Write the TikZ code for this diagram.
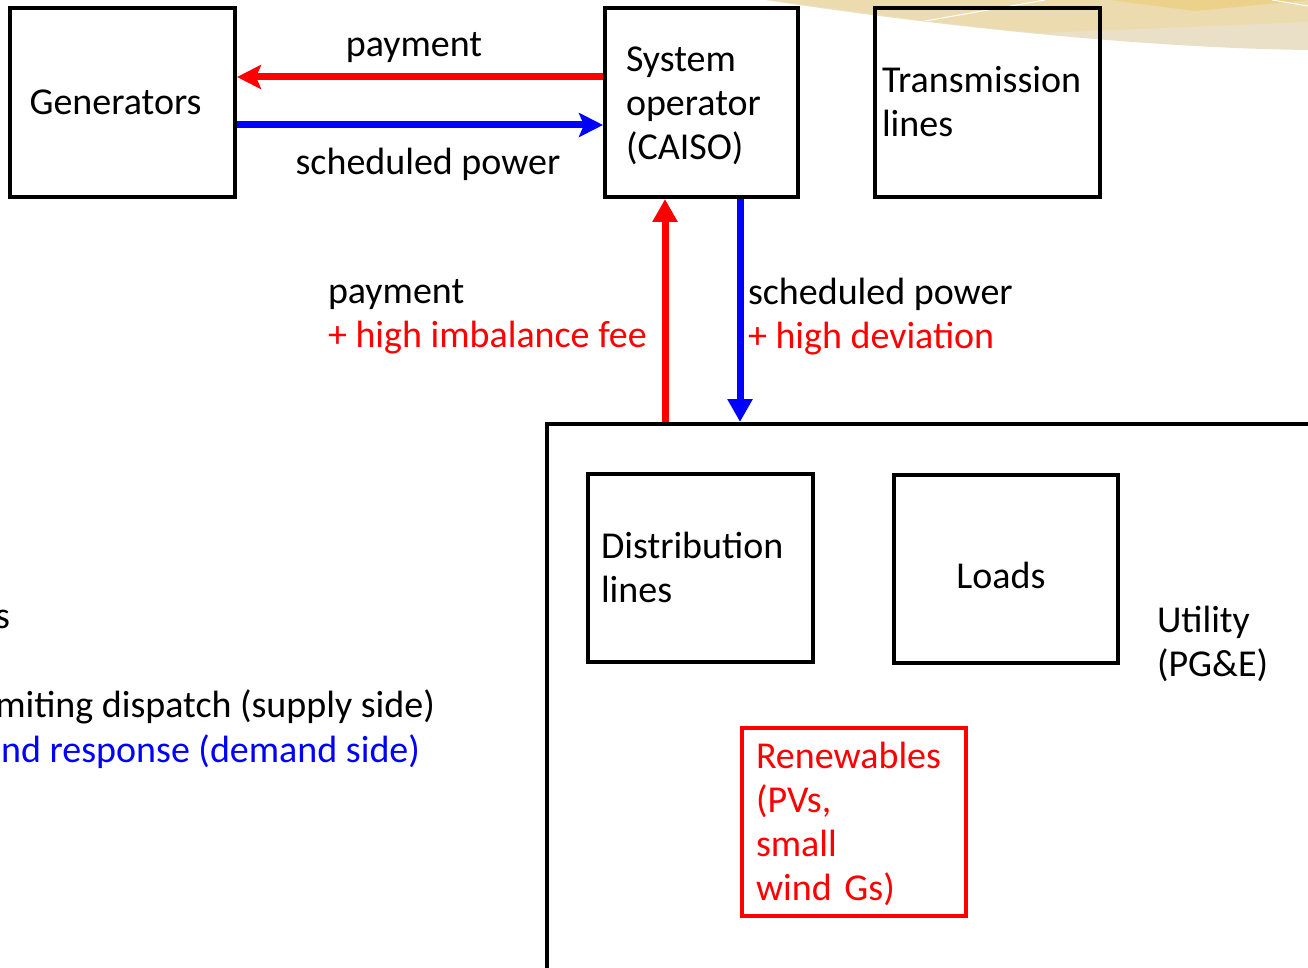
\documentclass[tikz,border=0pt]{standalone}
\usepackage{fontspec}
\setmainfont{Carlito}
\usetikzlibrary{arrows.meta}
\definecolor{tanlight}{HTML}{E9E0C7}
\definecolor{tanmid}{HTML}{EBDBAE}
\definecolor{tangold}{HTML}{ECD18A}
\tikzset{
  box/.style={draw=black, line width=4pt, rectangle, inner sep=0pt},
  plain/.style={inner sep=0pt, outer sep=0pt},
  boxtext/.style={plain, align=left},
  redarrow/.style={draw=red, line width=7pt},
  bluearrow/.style={draw=blue, line width=7pt},
  sidetip/.style={-{Stealth[width=24pt,length=24pt,inset=5pt]}},
  uptip/.style={-{Triangle[width=24pt,length=23pt]}},
}
\begin{document}
\begin{tikzpicture}[x=1pt, y=-1pt, font=\fontsize{38}{44}\selectfont]
\useasboundingbox (0,0) rectangle (1308,968);
\clip (0,0) rectangle (1308,968);

% decorative swoosh in the upper right corner
\fill[tanlight] (765,0) .. controls (950,28) and (1150,48) .. (1308,50) -- (1308,0) -- cycle;
\fill[tanmid] (772,0) .. controls (900,18) and (980,28) .. (1040,33) -- (1308,22) -- (1308,0) -- cycle;
\fill[tangold] (1110,0) -- (1195,11) -- (1308,0) -- cycle;
\draw[white, line width=1pt] (925,21) -- (1045,0);
\draw[white, line width=1pt] (1272,0) -- (1308,6);

% top row of boxes
\node[box, minimum width=225pt, minimum height=189pt,
  label={[boxtext, xshift=-7pt]center:Generators}] (gen) at (122.5,102.5) {};
\node[box, minimum width=193pt, minimum height=189pt,
  label={[boxtext, text width=151pt, yshift=-3pt]center:{System\\operator\\(CAISO)}}]
  (sys) at (701.5,102.5) {};
\node[box, minimum width=225pt, minimum height=189pt,
  label={[boxtext, text width=211pt, yshift=1pt]center:{Transmission\\lines}}]
  (trans) at (987.5,102.5) {};

% utility area (continues past the edges)
\node[box, minimum width=900pt, minimum height=700pt, anchor=north west] (util) at (545,422) {};
\node[box, minimum width=225pt, minimum height=188pt,
  label={[boxtext, text width=199pt, yshift=1pt]center:{Distribution\\lines}}]
  (dist) at (700.5,568) {};
\node[box, minimum width=224pt, minimum height=188pt,
  label={[boxtext, xshift=-5pt, yshift=-6pt]center:Loads}] (loads) at (1006,569) {};
\node[box, draw=red, minimum width=224pt, minimum height=188pt,
  label={[boxtext, text=red, text width=196pt, yshift=-2pt]center:{Renewables\\(PVs,\\small\\wind Gs)}}]
  (ren) at (854,822) {};
\node[plain, anchor=west, align=left] (utiltext) at (1157,643.5) {Utility\\(PG\&E)};

% connector rows and columns
\coordinate (ry) at (0,77);
\coordinate (by) at (0,125);
\coordinate (rx) at (665,0);
\coordinate (bx) at (740,0);

\draw[redarrow, sidetip] (sys.west |- ry) -- (gen.east |- ry);
\draw[bluearrow, sidetip] (gen.east |- by) -- (sys.west |- by);
\draw[redarrow, uptip] (util.north -| rx) -- (sys.south -| rx);
\draw[bluearrow, uptip] (sys.south -| bx) -- (util.north -| bx);

% connector labels
\node[plain] (lpay) at (414,48) {payment};
\node[plain] (lsched) at (428,164) {scheduled power};
\node[plain, anchor=west, align=left] (lpayfee) at (328,316.5)
  {payment\\\textcolor{red}{+ high imbalance fee}};
\node[plain, anchor=west, align=left] (lscheddev) at (748,317)
  {scheduled power\\\textcolor{red}{+ high deviation}};

% list running in from the left edge
\node[plain, anchor=east] (lista) at (10,619) {s};
\node[plain, anchor=east] (listb) at (435,707) {Limiting dispatch (supply side)};
\node[plain, anchor=east, text=blue] (listc) at (420,752) {Demand response (demand side)};
\end{tikzpicture}
\end{document}
